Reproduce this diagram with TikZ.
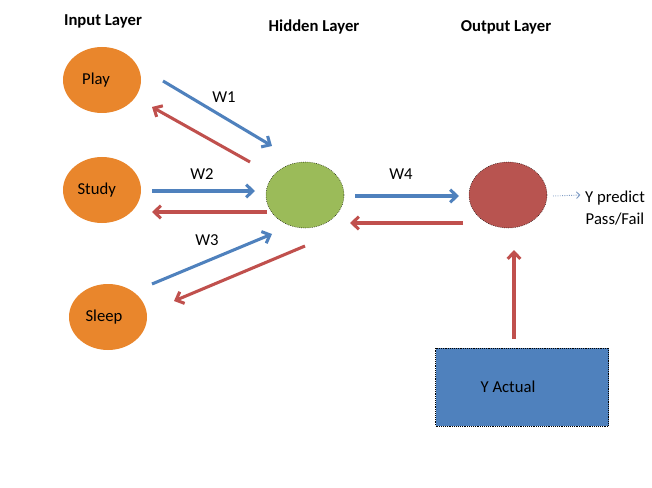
\documentclass[tikz,border=0pt]{standalone}
\usepackage{fontspec}
\setmainfont{Carlito}
\usepackage{tikz}
\usetikzlibrary{arrows.meta,shapes.geometric,calc}
\usepackage{xcolor}
\definecolor{inorange}{HTML}{E9862C}
\definecolor{hidgreen}{HTML}{9BBB59}
\definecolor{outred}{HTML}{B85450}
\definecolor{actblue}{HTML}{4F81BD}
\definecolor{arblue}{HTML}{4F81BD}
\definecolor{arred}{HTML}{C0504D}
\definecolor{thinblue}{HTML}{7F9CC4}

\begin{document}
\begin{tikzpicture}[x=0.75pt,y=-0.75pt,
  every node/.style={font=\fontsize{12.5}{15}\selectfont,align=center},
  neuron/.style={ellipse,minimum width=58.5pt,minimum height=49.5pt,inner sep=0pt},
  source/.style={neuron,fill=inorange},
  process/.style={neuron,fill=hidgreen,draw=black,densely dotted,thin},
  sink/.style={neuron,fill=outred,draw=black,densely dotted,thin},
  truth/.style={rectangle,fill=actblue,draw=black,densely dotted,thin,minimum width=129.75pt,minimum height=58.5pt},
  head/.style={font=\fontsize{12.5}{15}\selectfont\bfseries},
  fwd/.style={-{Straight Barb[length=5pt,width=9.5pt]},line width=2.3pt,arblue},
  back/.style={fwd,arred},
  pred/.style={-{Straight Barb[length=2.5pt,width=5pt]},densely dotted,line width=0.7pt,thinblue}]

  \useasboundingbox (0,0) rectangle (652,488);

  \node[head] (inhead) at (103,21) {Input Layer};
  \node[head] (hidhead) at (314,27) {Hidden Layer};
  \node[head] (outhead) at (506,27) {Output Layer};

  \node[source] (play) at (102,80) {\hspace*{-9pt}Play};
  \node[source] (study) at (102,190) {\hspace*{-8pt}Study};
  \node[source] (sleep) at (108,317) {\hspace*{-6pt}Sleep};
  \node[process] (hidden) at (305,195) {};
  \node[sink] (output) at (508,195) {};
  \node[truth] (actual) at (522,387) {\hspace*{-21pt}Y Actual};
  \node (predict) at (615,208) {Y predict\\[1.5pt]Pass/Fail};

  \node (w1) at (224,97) {W1};
  \node (w2) at (202,174) {W2};
  \node (w3) at (207,240) {W3};
  \node (w4) at (401,174) {W4};

  \draw[fwd] ($(play)+(61,1)$) -- ($(hidden)+(-33,-49)$);
  \draw[back] ($(hidden)+(-55,-33)$) -- ($(play)+(50,27)$);
  \draw[fwd] ($(study)+(50,1)$) -- ($(hidden)+(-50,-4)$);
  \draw[back] ($(hidden)+(-38,17)$) -- ($(study)+(50,22)$);
  \draw[fwd] ($(sleep)+(44,-33)$) -- ($(hidden)+(-33,39)$);
  \draw[back] ($(hidden)+(0,51)$) -- ($(sleep)+(66,-16)$);
  \draw[fwd] ($(hidden)+(50,1)$) -- ($(output)+(-49,1)$);
  \draw[back] ($(output)+(-45,28)$) -- ($(hidden)+(45,28)$);
  \draw[back] ($(actual.north)+(-8,-9)$) -- ($(output)+(6,55)$);
  \draw[pred] ($(output)+(45,1)$) -- (predict.west |- output);
\end{tikzpicture}
\end{document}
